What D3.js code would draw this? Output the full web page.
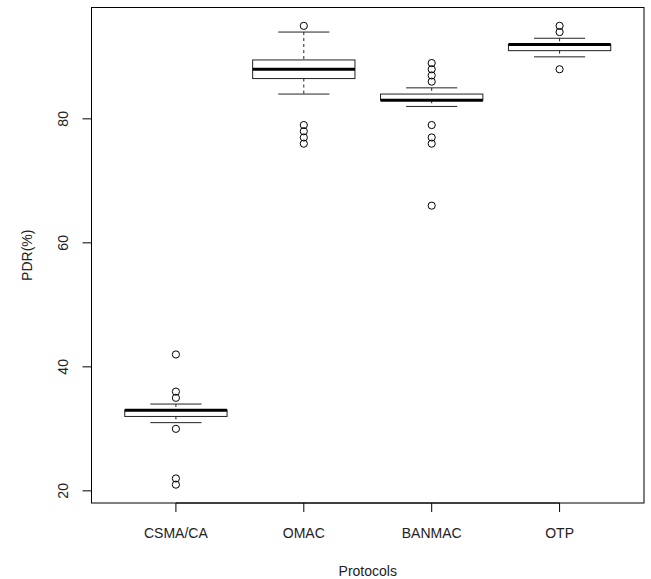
<!DOCTYPE html>
<html>
<head>
<meta charset="utf-8">
<script src="https://cdn.jsdelivr.net/npm/d3@7"></script>
<style>
  body { margin: 0; background: #fff; }
  svg { display: block; font-family: 'Liberation Sans', Arial, Helvetica, sans-serif; }
</style>
</head>
<body>
<div id="chart"></div>
<script>
const svgWidth = 651;
const svgHeight = 579;

// box plot summaries
const protocols = ['CSMA/CA', 'OMAC', 'BANMAC', 'OTP'];
const lowerWhisker = [31, 84, 82, 90];
const q1 = [32, 86.5, 83, 91];
const median = [33, 88, 83, 92];
const q3 = [33, 89.5, 84, 92];
const upperWhisker = [34, 94, 85, 93];
const outliers = [
  [42, 36, 35, 30, 22, 21],
  [95, 79, 78, 77, 76],
  [89, 88, 87, 86, 79, 77, 76, 66],
  [95, 94, 88],
];
const yTicks = [20, 40, 60, 80];

const plot = { left: 91.5, right: 644, top: 7.5, bottom: 503 };
const fontSize = '14px';

const svg = d3.select('#chart').append('svg').attr('width', svgWidth).attr('height', svgHeight);

// R style: xlim 0.5..n+0.5 padded 4%, ylim data range padded 4%
const x = d3
  .scaleLinear()
  .domain([0.34, protocols.length + 0.66])
  .range([plot.left, plot.right]);

const allValues = lowerWhisker.concat(upperWhisker, outliers.flat());
const yMin = d3.min(allValues);
const yMax = d3.max(allValues);
const pad = (yMax - yMin) * 0.04;
const y = d3
  .scaleLinear()
  .domain([yMin - pad, yMax + pad])
  .range([plot.bottom, plot.top]);

const boxHalf = 0.4;
const stapleHalf = 0.2;

protocols.forEach((p, i) => {
  const cx = x(i + 1);
  const g = svg.append('g');

  // whiskers
  g.append('line')
    .attr('x1', cx).attr('x2', cx)
    .attr('y1', y(upperWhisker[i])).attr('y2', y(q3[i]))
    .attr('stroke', '#222').attr('stroke-dasharray', '3 3');
  g.append('line')
    .attr('x1', cx).attr('x2', cx)
    .attr('y1', y(q1[i])).attr('y2', y(lowerWhisker[i]))
    .attr('stroke', '#222').attr('stroke-dasharray', '3 3');

  // staples
  [upperWhisker[i], lowerWhisker[i]].forEach((v) => {
    g.append('line')
      .attr('x1', x(i + 1 - stapleHalf)).attr('x2', x(i + 1 + stapleHalf))
      .attr('y1', y(v)).attr('y2', y(v))
      .attr('stroke', '#222');
  });

  // box
  g.append('rect')
    .attr('x', x(i + 1 - boxHalf))
    .attr('y', y(q3[i]))
    .attr('width', x(i + 1 + boxHalf) - x(i + 1 - boxHalf))
    .attr('height', y(q1[i]) - y(q3[i]))
    .attr('fill', 'none')
    .attr('stroke', '#222');

  // median
  g.append('line')
    .attr('x1', x(i + 1 - boxHalf)).attr('x2', x(i + 1 + boxHalf))
    .attr('y1', y(median[i])).attr('y2', y(median[i]))
    .attr('stroke', '#000').attr('stroke-width', 3);

  // outliers
  g.selectAll('circle')
    .data(outliers[i])
    .join('circle')
    .attr('cx', cx)
    .attr('cy', (d) => y(d))
    .attr('r', 3.6)
    .attr('fill', 'none')
    .attr('stroke', '#000');
});

// plot frame
svg.append('rect')
  .attr('x', plot.left).attr('y', plot.top)
  .attr('width', plot.right - plot.left).attr('height', plot.bottom - plot.top)
  .attr('fill', 'none').attr('stroke', '#000');

// y axis
const yAxis = svg.append('g');
yAxis.append('line')
  .attr('x1', plot.left).attr('x2', plot.left)
  .attr('y1', y(yTicks[0])).attr('y2', y(yTicks[yTicks.length - 1]))
  .attr('stroke', '#000');
yTicks.forEach((t) => {
  yAxis.append('line')
    .attr('x1', plot.left - 9).attr('x2', plot.left)
    .attr('y1', y(t)).attr('y2', y(t))
    .attr('stroke', '#000');
  yAxis.append('text')
    .attr('transform', `translate(${plot.left - 28}, ${y(t)}) rotate(-90)`)
    .attr('text-anchor', 'middle')
    .attr('dy', '0.35em')
    .style('font-size', fontSize)
    .attr('fill', '#222')
    .text(t);
});

// x axis
const xAxis = svg.append('g');
xAxis.append('line')
  .attr('x1', x(1)).attr('x2', x(protocols.length))
  .attr('y1', plot.bottom).attr('y2', plot.bottom)
  .attr('stroke', '#000');
protocols.forEach((p, i) => {
  xAxis.append('line')
    .attr('x1', x(i + 1)).attr('x2', x(i + 1))
    .attr('y1', plot.bottom).attr('y2', plot.bottom + 9)
    .attr('stroke', '#000');
  xAxis.append('text')
    .attr('x', x(i + 1))
    .attr('y', plot.bottom + 35)
    .attr('text-anchor', 'middle')
    .style('font-size', fontSize)
    .attr('fill', '#222')
    .text(p);
});

// axis titles
svg.append('text')
  .attr('x', (plot.left + plot.right) / 2)
  .attr('y', plot.bottom + 73)
  .attr('text-anchor', 'middle')
  .style('font-size', fontSize)
  .attr('fill', '#222')
  .text('Protocols');

svg.append('text')
  .attr('transform', `translate(27, ${(plot.top + plot.bottom) / 2}) rotate(-90)`)
  .attr('text-anchor', 'middle')
  .attr('dy', '0.35em')
  .style('font-size', fontSize)
  .attr('fill', '#222')
  .text('PDR(%)');
</script>
</body>
</html>
